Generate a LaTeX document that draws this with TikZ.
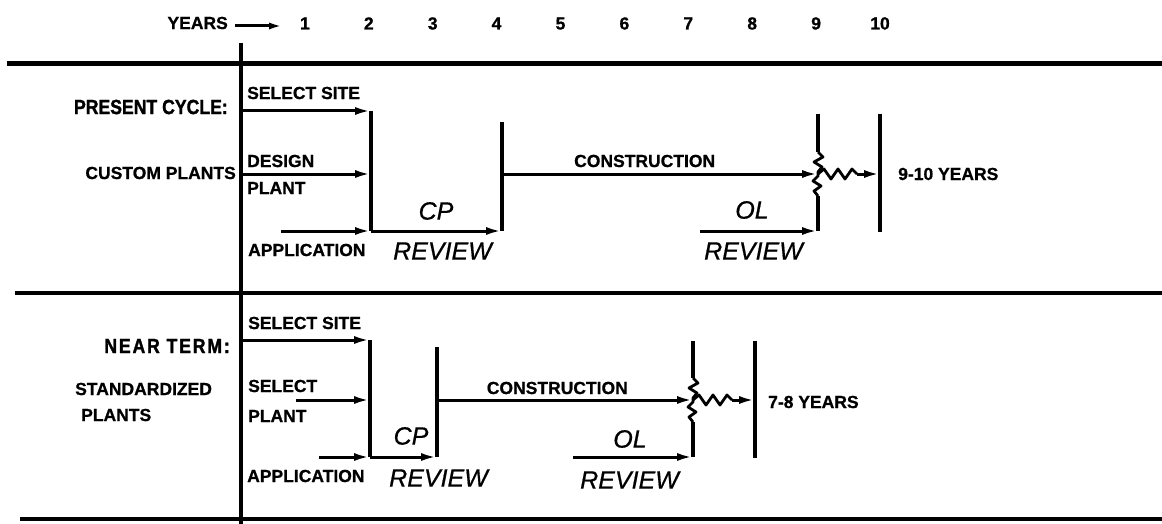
\documentclass[tikz,border=0pt]{standalone}
\usepackage{fontspec}
\setmainfont{Liberation Sans}
\newfontfamily\headfont[FakeStretch=0.86,FakeBold=1.5]{Liberation Sans Bold}
\newfontfamily\headwidefont[FakeStretch=0.86,FakeBold=1.5,LetterSpace=9]{Liberation Sans Bold}
\newfontfamily\lblfont[FakeBold=0.8]{Liberation Sans Bold}
\newfontfamily\italfont[FakeBold=0.6]{Liberation Sans Italic}
\usetikzlibrary{arrows.meta,calc}
\begin{document}
\begin{tikzpicture}[x=1pt,y=-1pt,
  lbl/.style={font=\fontsize{17.5}{18}\lblfont, inner sep=0pt},
  head/.style={font=\fontsize{20.5}{22}\headfont, inner sep=0pt},
  headw/.style={font=\fontsize{20.5}{22}\headwidefont, inner sep=0pt},
  ital/.style={font=\fontsize{25}{26}\italfont, inner sep=0pt},
  rule/.style={line width=4.5pt},
  bar/.style={line width=3.4pt},
  zz/.style={line width=2.8pt, line join=round},
  flow/.style={line width=3pt, -{Latex[length=16pt,width=8pt]}},
  zig/.pic={
    \draw[zz] (0,-22) -- (5,-17) -- (-4,-12) -- (4,-7) -- (0,-2) -- (0,2) -- (-5,7) -- (3,12) -- (-4,17) -- (0,22);
    \draw[zz] (0,0) -- (6,-5) -- (13,5) -- (20,-5) -- (27,5) -- (34,-5) -- (39,0);
    \draw[flow] (39,0) -- (62,0);
  }
]
\useasboundingbox (0,0) rectangle (1162,524);

% ---------- header ----------
\node[lbl, anchor=east] (years) at (228,23) {YEARS};
\coordinate (ya) at (235,26);
\coordinate (yb) at (283,26);
\draw[line width=3pt, -{Latex[length=14pt,width=7pt]}] (ya) -- (yb);
\foreach \k in {1,...,10}{
  \node[lbl, anchor=base] (n\k) at ({241+63.9*\k},29.5) {\k};
}

% ---------- rules ----------
\draw[rule] (7,63.5) -- (1162,63.5);
\draw[rule] (15,293) -- (1162,293);
\draw[rule] (20,519) -- (1162,519);
\coordinate (v0t) at (241,43);
\coordinate (v0b) at (241,524);
\draw[rule] (v0t) -- (v0b);

% ---------- present cycle ----------
\node[head, anchor=east] (pc) at (228,107) {PRESENT CYCLE:};
\node[lbl, anchor=east] (cp0) at (236,173) {CUSTOM PLANTS};
\node[lbl, anchor=west] (ss1) at (247,93) {SELECT SITE};
\node[lbl, anchor=west] (dg1) at (247,161) {DESIGN};
\node[lbl, anchor=west] (pl1) at (247,188) {PLANT};
\node[lbl, anchor=west] (ap1) at (248,250) {APPLICATION};
\node[ital] (cpl1) at (436,211) {CP};
\node[ital, anchor=west] (rv1) at (393,251) {REVIEW};
\node[lbl, anchor=west] (cn1) at (574,161) {CONSTRUCTION};
\node[ital] (ol1) at (752,210) {OL};
\node[ital, anchor=west] (rv2) at (704,251) {REVIEW};
\node[lbl, anchor=west] (yr1) at (898,174) {9-10 YEARS};

\coordinate (a1) at (241,111);
\coordinate (b1t) at (371,111);
\coordinate (b1m) at (371,174);
\coordinate (b1b) at (371,231);
\coordinate (a2) at (241,174);
\coordinate (a3) at (281,231);
\coordinate (b2t) at (502,122);
\coordinate (b2m) at (502,174);
\coordinate (b2b) at (502,231);
\coordinate (z1) at (818,174);
\coordinate (z1t) at (818,114);
\coordinate (z1b) at (818,231);
\coordinate (a4) at (700,231);
\coordinate (e1t) at (880,114);
\coordinate (e1b) at (880,232);

\draw[bar] (b1t) -- (b1b);
\draw[flow] (a1) -- (b1t);
\draw[flow] (a2) -- (b1m);
\draw[flow] (a3) -- (b1b);
\draw[flow] (b1b) -- (b2b);
\draw[bar] (b2t) -- (b2b);
\draw[flow] (b2m) -- (z1);
\draw[bar] (z1t) -- ($(z1)+(0,-22)$);
\draw[bar] (z1b) -- ($(z1)+(0,22)$);
\pic at (z1) {zig};
\draw[flow] (a4) -- (z1b);
\draw[bar] (e1t) -- (e1b);

% ---------- near term ----------
\node[headw, anchor=east] (nt) at (230,346) {NEAR TERM:};
\node[lbl, anchor=west] (sd) at (75,389) {STANDARDIZED};
\node[lbl, anchor=west] (sp) at (81,415) {PLANTS};
\node[lbl, anchor=west] (ss2) at (248,323) {SELECT SITE};
\node[lbl, anchor=west] (sl2) at (248,386) {SELECT};
\node[lbl, anchor=west] (pl2) at (248,416) {PLANT};
\node[lbl, anchor=west] (ap2) at (247,476) {APPLICATION};
\node[ital] (cpl2) at (411,436) {CP};
\node[ital, anchor=west] (rv3) at (389,478) {REVIEW};
\node[lbl, anchor=east] (cn2) at (628,388) {CONSTRUCTION};
\node[ital] (ol2) at (630,439) {OL};
\node[ital, anchor=west] (rv4) at (580,480) {REVIEW};
\node[lbl, anchor=west] (yr2) at (768,402) {7-8 YEARS};

\coordinate (c1) at (241,340);
\coordinate (d1t) at (370,340);
\coordinate (d1m) at (370,400);
\coordinate (d1b) at (370,457);
\coordinate (c2) at (296,400);
\coordinate (c3) at (319,457);
\coordinate (d2t) at (437,347);
\coordinate (d2m) at (437,400);
\coordinate (d2b) at (437,457);
\coordinate (z2) at (693,400);
\coordinate (z2t) at (693,341);
\coordinate (z2b) at (693,457);
\coordinate (c4) at (573,457);
\coordinate (f1t) at (755,341);
\coordinate (f1b) at (755,458);

\draw[bar] (d1t) -- (d1b);
\draw[flow] (c1) -- (d1t);
\draw[flow] (c2) -- (d1m);
\draw[flow] (c3) -- (d1b);
\draw[flow] (d1b) -- (d2b);
\draw[bar] (d2t) -- (d2b);
\draw[flow] (d2m) -- (z2);
\draw[bar] (z2t) -- ($(z2)+(0,-22)$);
\draw[bar] (z2b) -- ($(z2)+(0,22)$);
\pic at (z2) {zig};
\draw[flow] (c4) -- (z2b);
\draw[bar] (f1t) -- (f1b);
\end{tikzpicture}
\end{document}
